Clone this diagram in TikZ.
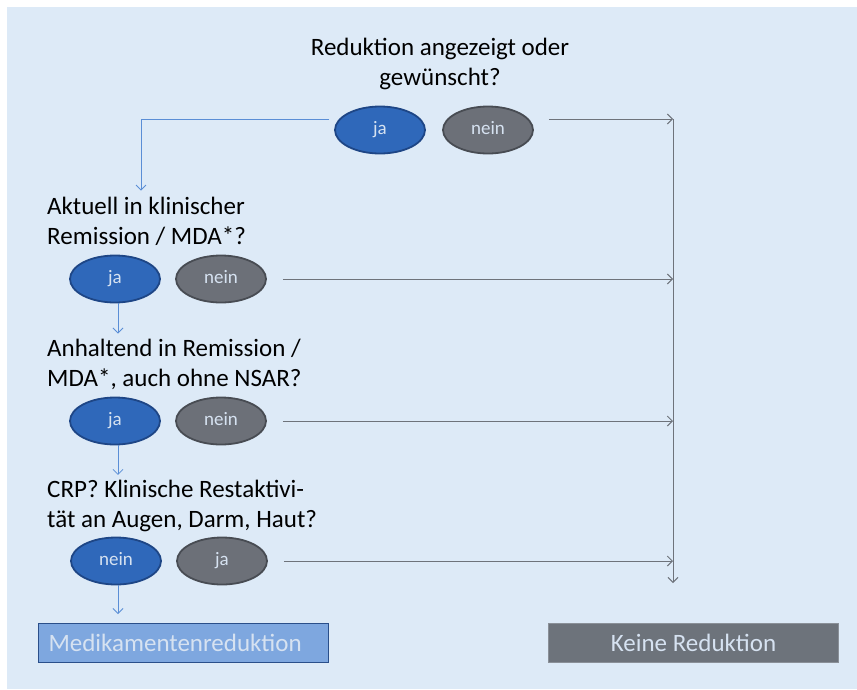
\documentclass[tikz,border=0pt]{standalone}
\usepackage{fontspec}
\setmainfont{Carlito}
\usetikzlibrary{arrows.meta,shapes.geometric,calc}
\definecolor{bgblue}{HTML}{DDEAF7}
\definecolor{ellblue}{HTML}{2F68BA}
\definecolor{ellblueb}{HTML}{1E4686}
\definecolor{ellgray}{HTML}{6C7078}
\definecolor{ellgrayb}{HTML}{484C53}
\definecolor{lineblue}{HTML}{5A8ED6}
\definecolor{linegray}{HTML}{6E737B}
\definecolor{boxblue}{HTML}{7EA7DF}
\definecolor{boxblueb}{HTML}{2A4F8A}
\definecolor{boxgray}{HTML}{6D737B}
\definecolor{boxgrayb}{HTML}{8A9098}
\definecolor{lighttext}{HTML}{D6E2F1}
\tikzset{
  x=1pt,y=-1pt,
  question/.style={inner sep=0pt,font=\fontsize{25}{30}\selectfont,text=black},
  ellbase/.style={ellipse,line width=1.8pt,minimum width=90pt,minimum height=47pt,inner sep=0pt,text=lighttext,font=\fontsize{19}{22}\selectfont,text height=11pt,text depth=2pt},
  yesell/.style={ellbase,draw=ellblueb,fill=ellblue},
  noell/.style={ellbase,draw=ellgrayb,fill=ellgray},
  bluearrow/.style={draw=lineblue,line width=0.8pt,-{Straight Barb[length=5pt,width=10pt]}},
  grayarrow/.style={draw=linegray,line width=1pt,-{Straight Barb[length=5pt,width=10pt]}},
  resultbox/.style={minimum width=290pt,minimum height=39pt,inner ysep=0pt,font=\fontsize{25}{28}\selectfont,text height=17pt,text depth=1pt}
}
\begin{document}
\begin{tikzpicture}
\useasboundingbox (0,0) rectangle (857,689);
\fill[white] (0,0) rectangle (857,689);
\fill[bgblue] (7,7) rectangle (857,689);

% Question 0
\node[question,align=center] (q0) at (440,64) {Reduktion angezeigt oder\\gewünscht?};
\node[yesell] (ja0) at (380,130) {ja};
\node[noell] (nein0) at (488,130) {nein};

% Question 1
\node[question,align=left,anchor=west] (q1) at (47,221) {Aktuell in klinischer\\Remission / MDA*?};
\node[yesell] (ja1) at (115,279) {ja};
\node[noell] (nein1) at (221,279) {nein};

% Question 2
\node[question,align=left,anchor=west] (q2) at (47,364) {Anhaltend in Remission /\\MDA*, auch ohne NSAR?};
\node[yesell] (ja2) at (115,421) {ja};
\node[noell] (nein2) at (221,421) {nein};

% Question 3
\node[question,align=left,anchor=west] (q3) at (47,506) {CRP? Klinische Restaktivi-\\tät an Augen, Darm, Haut?};
\node[yesell] (ja3) at (116,561) {nein};
\node[noell] (nein3) at (222,561) {ja};

% Results
\node[resultbox,fill=boxblue,draw=boxblueb,line width=1pt,text=lighttext,anchor=north west,inner xsep=10pt,text width=270pt,align=left] (med) at (38,623) {Medikamentenreduktion};
\node[resultbox,fill=boxgray,draw=boxgrayb,line width=1pt,text=lighttext,anchor=north west] (keine) at (548,623) {Keine Reduktion};

% right collector
\coordinate (rt) at (673,119);
\coordinate (rb) at (673,583);

% connectors
\draw[bluearrow] ([xshift=-5pt,yshift=11pt]ja0.west) -| ([xshift=94pt,yshift=6pt]q1.north west);
\draw[grayarrow] ([xshift=15pt,yshift=11pt]nein0.east) -- (rt);
\draw[grayarrow] (rt) -- (rb);
\draw[grayarrow] ([xshift=16pt]nein1.east) -- (rt |- nein1.east);
\draw[grayarrow] ([xshift=16pt]nein2.east) -- (rt |- nein2.east);
\draw[grayarrow] ([xshift=16pt]nein3.east) -- (rt |- nein3.east);
\draw[bluearrow] ([xshift=3pt]ja1.south) -- ([xshift=3pt,yshift=5pt]ja1.south |- q2.north);
\draw[bluearrow] ([xshift=3pt]ja2.south) -- ([xshift=3pt,yshift=5pt]ja2.south |- q3.north);
\draw[bluearrow] ([xshift=2pt]ja3.south) -- ([xshift=2pt,yshift=9pt]ja3.south |- med.north);
\end{tikzpicture}
\end{document}
